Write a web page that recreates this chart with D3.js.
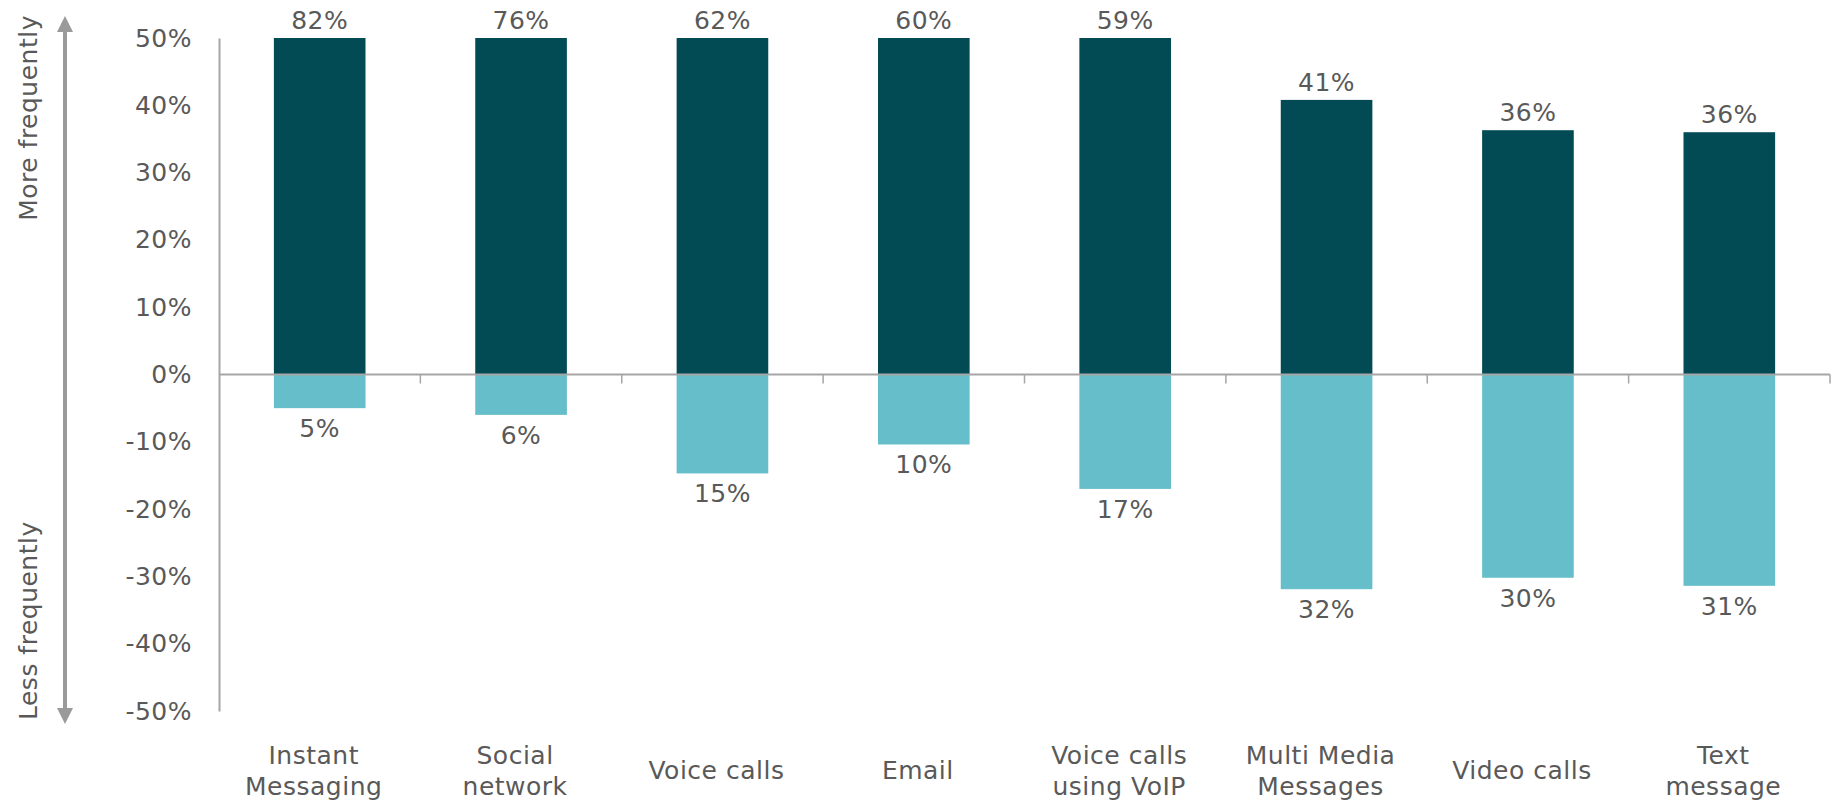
<!DOCTYPE html>
<html>
<head>
<meta charset="utf-8">
<script src="https://cdnjs.cloudflare.com/ajax/libs/d3/7.8.5/d3.min.js"></script>
<style>
  body { margin: 0; background: #fff; }
  text { font-family: "DejaVu Sans", Verdana, sans-serif; fill: #595959; letter-spacing: 0.5px; }
</style>
</head>
<body>
<div id="chart"></div>
<script>
var svgWidth = 1836;
var svgHeight = 802;

var margin = { top: 38, right: 6, bottom: 91, left: 219 };

var width = svgWidth - margin.left - margin.right;
var height = svgHeight - margin.top - margin.bottom;

// data
var categories = [
  ["Instant", "Messaging"],
  ["Social", "network"],
  ["Voice calls"],
  ["Email"],
  ["Voice calls", "using VoIP"],
  ["Multi Media", "Messages"],
  ["Video calls"],
  ["Text", "message"]
];
var moreFrequently = [82, 76, 62, 60, 59, 40.8, 36.3, 36.0];
var lessFrequently = [5.0, 6.0, 14.7, 10.4, 17.0, 31.9, 30.2, 31.4];
var yTicks = [50, 40, 30, 20, 10, 0, -10, -20, -30, -40, -50];

var darkColor = "#024b55";
var lightColor = "#65bec9";
var axisColor = "#a6a6a6";
var fontSize = "25px";

var svg = d3.select("#chart")
  .append("svg")
  .attr("width", svgWidth)
  .attr("height", svgHeight);

var chartGroup = svg.append("g")
  .attr("transform", `translate(${margin.left}, ${margin.top})`);

// scales - the axis stops at +/-50% so tall bars get clipped at the top
var xBand = d3.scaleBand()
  .domain(d3.range(categories.length))
  .range([0, width])
  .paddingInner(0.545)
  .paddingOuter(0.2725);

var yLinearScale = d3.scaleLinear()
  .domain([-50, 50])
  .range([height, 0])
  .clamp(true);

var rows = categories.map(function(c, i) {
  return { i: i, label: c, pos: moreFrequently[i], neg: lessFrequently[i] };
});

// positive bars
chartGroup.selectAll(".bar-pos")
  .data(rows)
  .enter()
  .append("rect")
  .attr("class", "bar-pos")
  .attr("x", d => xBand(d.i))
  .attr("width", xBand.bandwidth())
  .attr("y", d => yLinearScale(d.pos))
  .attr("height", d => yLinearScale(0) - yLinearScale(d.pos))
  .attr("fill", darkColor);

// negative bars
chartGroup.selectAll(".bar-neg")
  .data(rows)
  .enter()
  .append("rect")
  .attr("class", "bar-neg")
  .attr("x", d => xBand(d.i))
  .attr("width", xBand.bandwidth())
  .attr("y", yLinearScale(0))
  .attr("height", d => yLinearScale(-d.neg) - yLinearScale(0))
  .attr("fill", lightColor);

// value labels
chartGroup.selectAll(".lbl-pos")
  .data(rows)
  .enter()
  .append("text")
  .attr("x", d => xBand(d.i) + xBand.bandwidth() / 2)
  .attr("y", d => yLinearScale(d.pos) - 9)
  .attr("text-anchor", "middle")
  .attr("font-size", fontSize)
  .text(d => Math.round(d.pos) + "%");

chartGroup.selectAll(".lbl-neg")
  .data(rows)
  .enter()
  .append("text")
  .attr("x", d => xBand(d.i) + xBand.bandwidth() / 2)
  .attr("y", d => yLinearScale(-d.neg) + 29)
  .attr("text-anchor", "middle")
  .attr("font-size", fontSize)
  .text(d => Math.round(d.neg) + "%");

// y axis
var leftAxis = d3.axisLeft(yLinearScale)
  .tickValues(yTicks)
  .tickSize(0)
  .tickPadding(27)
  .tickFormat(d => d + "%");

var yAxis = chartGroup.append("g").call(leftAxis);
yAxis.select(".domain").attr("stroke", axisColor).attr("stroke-width", 2);
yAxis.selectAll("text")
  .attr("font-size", fontSize)
  .attr("font-family", "DejaVu Sans, Verdana, sans-serif")
  .attr("fill", "#595959");

// zero line with category ticks at band edges
var zeroY = yLinearScale(0);
chartGroup.append("line")
  .attr("x1", 0)
  .attr("x2", width)
  .attr("y1", zeroY)
  .attr("y2", zeroY)
  .attr("stroke", axisColor)
  .attr("stroke-width", 2);

var step = xBand.step();
chartGroup.selectAll(".xtick")
  .data(d3.range(1, categories.length + 1))
  .enter()
  .append("line")
  .attr("x1", d => xBand(0) - xBand.paddingOuter() * step + d * step)
  .attr("x2", d => xBand(0) - xBand.paddingOuter() * step + d * step)
  .attr("y1", zeroY)
  .attr("y2", zeroY + 9)
  .attr("stroke", axisColor)
  .attr("stroke-width", 1.5);

// category labels underneath the plot (sit a touch left of bar centre)
var catLabels = chartGroup.selectAll(".cat")
  .data(rows)
  .enter()
  .append("text")
  .attr("class", "cat")
  .attr("text-anchor", "middle")
  .attr("font-size", fontSize)
  .attr("transform", d => `translate(${xBand(d.i) + xBand.bandwidth() / 2 - 6}, ${height + 60})`);

catLabels.each(function(d) {
  var t = d3.select(this);
  var n = d.label.length;
  d.label.forEach(function(line, k) {
    t.append("tspan")
      .attr("x", 0)
      .attr("y", (k - (n - 1) / 2) * 31 + 8)
      .text(line);
  });
});

// direction arrow on the far left
var defs = svg.append("defs");
defs.append("marker")
  .attr("id", "arrowHead")
  .attr("viewBox", "0 0 10 10")
  .attr("refX", 5)
  .attr("refY", 5)
  .attr("markerWidth", 4)
  .attr("markerHeight", 4)
  .attr("orient", "auto-start-reverse")
  .append("path")
  .attr("d", "M0,0 L10,5 L0,10 Z")
  .attr("fill", "#9a9a9a");

svg.append("line")
  .attr("x1", 65)
  .attr("x2", 65)
  .attr("y1", 24)
  .attr("y2", 716)
  .attr("stroke", "#9a9a9a")
  .attr("stroke-width", 4)
  .attr("marker-start", "url(#arrowHead)")
  .attr("marker-end", "url(#arrowHead)");

svg.append("text")
  .attr("transform", "translate(37, 15) rotate(-90)")
  .attr("text-anchor", "end")
  .attr("font-size", fontSize)
  .text("More frequently");

svg.append("text")
  .attr("transform", "translate(37, 720) rotate(-90)")
  .attr("text-anchor", "start")
  .attr("font-size", fontSize)
  .text("Less frequently");
</script>
</body>
</html>
